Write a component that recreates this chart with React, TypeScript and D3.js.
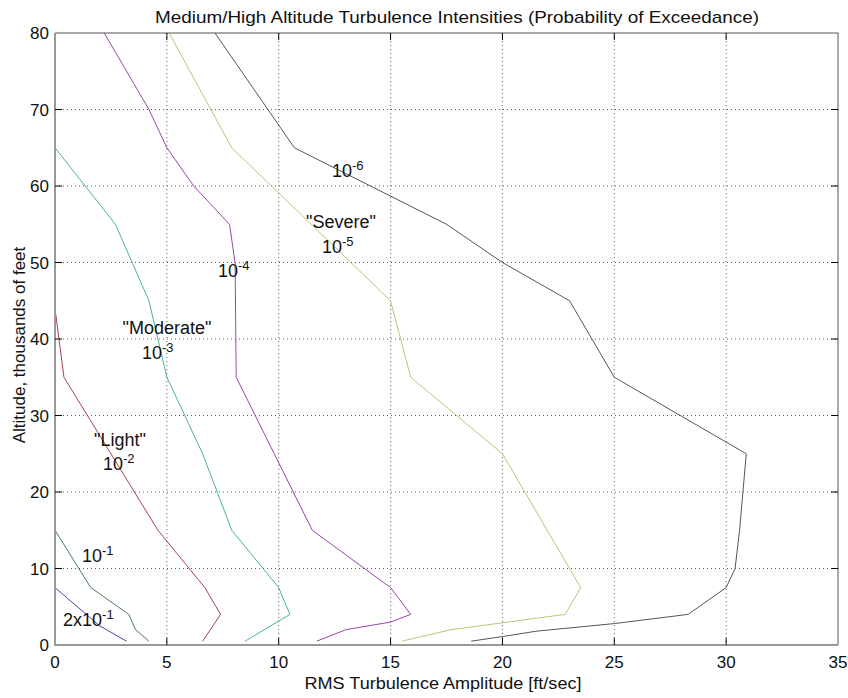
import React from "react";
import * as d3 from "d3";

// Exceedance-probability contours: RMS gust amplitude (ft/sec) vs altitude (thousands of feet)
const amp2e1 = [3.2, 2.0, 0];
const alt2e1 = [0.5, 2.5, 7.5];

const amp1e1 = [4.2, 3.6, 3.3, 1.6, 0];
const alt1e1 = [0.5, 2, 4, 7.5, 15];

const amp1e2 = [6.6, 7.4, 6.7, 4.6, 0.4, 0];
const alt1e2 = [0.5, 4, 7.5, 15, 35, 44];

const amp1e3 = [8.5, 10.5, 10.0, 7.9, 6.6, 5.0, 4.2, 2.7, 0];
const alt1e3 = [0.5, 4, 7.5, 15, 25, 35, 45, 55, 65];

const amp1e4 = [11.7, 13.0, 15.0, 15.9, 15.0, 11.5, 9.8, 8.1, 8.05, 7.8, 6.2, 5.0, 4.2, 3.0, 2.2];
const alt1e4 = [0.5, 2, 3, 4, 7.5, 15, 25, 35, 50, 55, 60, 65, 70, 76, 80];

const amp1e5 = [15.5, 17.7, 22.8, 23.5, 20.0, 15.9, 15.0, 7.9, 5.1];
const alt1e5 = [0.5, 2, 4, 7.5, 25, 35, 45, 65, 80];

const amp1e6 = [18.6, 20.0, 21.5, 25.0, 28.3, 30.0, 30.4, 30.6, 30.75, 30.9, 25.0, 23.0, 20.0, 17.5, 10.7, 7.15];
const alt1e6 = [0.5, 1.1, 1.8, 2.8, 4, 7.5, 10, 15, 20, 25, 35, 45, 50, 55, 65, 80];

const xTicks = [0, 5, 10, 15, 20, 25, 30, 35];
const yTicks = [0, 10, 20, 30, 40, 50, 60, 70, 80];

const curves = [
  { amp: amp2e1, alt: alt2e1, color: "#4646a8" },
  { amp: amp1e1, alt: alt1e1, color: "#4a7d4f" },
  { amp: amp1e2, alt: alt1e2, color: "#a4454e" },
  { amp: amp1e3, alt: alt1e3, color: "#45b3a2" },
  { amp: amp1e4, alt: alt1e4, color: "#9646a6" },
  { amp: amp1e5, alt: alt1e5, color: "#bcc47a" },
  { amp: amp1e6, alt: alt1e6, color: "#555555" },
];

// Curve annotations: optional severity name plus exponent label
const labels = [
  { pre: "2x10", exp: "-1", x: 63, y: 626 },
  { pre: "10", exp: "-1", x: 82, y: 562 },
  { pre: "10", exp: "-2", x: 103, y: 470, name: "\"Light\"", nx: 120, ny: 446 },
  { pre: "10", exp: "-3", x: 142, y: 359, name: "\"Moderate\"", nx: 167, ny: 334 },
  { pre: "10", exp: "-4", x: 218, y: 277 },
  { pre: "10", exp: "-5", x: 322, y: 253, name: "\"Severe\"", nx: 341, ny: 228 },
  { pre: "10", exp: "-6", x: 332, y: 177 },
];

const W = 848;
const H = 698;
const L = 55, R = 838, T = 33, B = 645;
const FONT = "'Liberation Sans', Arial, Helvetica, sans-serif";

export default function App() {
  const x = d3.scaleLinear().domain([0, 35]).range([L, R]);
  const y = d3.scaleLinear().domain([0, 80]).range([B, T]);
  const line = d3
    .line<[number, number]>()
    .x((d) => x(d[0]))
    .y((d) => y(d[1]));
  const tickLen = 7;

  return (
    <svg
      width={W}
      height={H}
      style={{ position: "absolute", left: 0, top: 0, background: "#fff" }}
      fontFamily={FONT}
    >
      <rect x={0} y={0} width={W} height={H} fill="#fff" />
      {/* dotted grid */}
      <g stroke="#333" strokeWidth={1} strokeDasharray="1 3" opacity={0.8}>
        {xTicks.slice(1, -1).map((t) => (
          <line key={"gx" + t} x1={x(t)} x2={x(t)} y1={T} y2={B} />
        ))}
        {yTicks.slice(1, -1).map((t) => (
          <line key={"gy" + t} x1={L} x2={R} y1={y(t)} y2={y(t)} />
        ))}
      </g>
      {/* contour lines */}
      {curves.map((c, i) => (
        <path
          key={i}
          d={line(c.amp.map((a, j) => [a, c.alt[j]] as [number, number])) || ""}
          fill="none"
          stroke={c.color}
          strokeWidth={1}
        />
      ))}
      {/* axes box */}
      <line x1={L} x2={R} y1={T} y2={T} stroke="#555" strokeWidth={1} />
      <line x1={R} x2={R} y1={T} y2={B} stroke="#555" strokeWidth={1} />
      <line x1={L} x2={L} y1={T} y2={B + 1} stroke="#999" strokeWidth={2} />
      <line x1={L - 1} x2={R} y1={B} y2={B} stroke="#999" strokeWidth={2} />
      {/* ticks */}
      <g stroke="#000" strokeWidth={1}>
        {xTicks.slice(1, -1).map((t) => (
          <g key={"tx" + t}>
            <line x1={x(t)} x2={x(t)} y1={B} y2={B - tickLen} />
            <line x1={x(t)} x2={x(t)} y1={T} y2={T + tickLen} />
          </g>
        ))}
        {yTicks.slice(1, -1).map((t) => (
          <g key={"ty" + t}>
            <line x1={L} x2={L + tickLen} y1={y(t)} y2={y(t)} />
            <line x1={R} x2={R - tickLen} y1={y(t)} y2={y(t)} />
          </g>
        ))}
      </g>
      {/* tick labels */}
      <g fontSize={17} fill="#111">
        {xTicks.map((t) => (
          <text key={"lx" + t} x={x(t)} y={668} textAnchor="middle">
            {t}
          </text>
        ))}
        {yTicks.map((t) => (
          <text key={"ly" + t} x={49} y={y(t) + 6} textAnchor="end">
            {t}
          </text>
        ))}
      </g>
      {/* title and axis titles */}
      <text
        x={457}
        y={23}
        textAnchor="middle"
        fontSize={17}
        fill="#111"
        textLength={604}
        lengthAdjust="spacingAndGlyphs"
      >
        Medium/High Altitude Turbulence Intensities (Probability of Exceedance)
      </text>
      <text
        x={443}
        y={689}
        textAnchor="middle"
        fontSize={17}
        fill="#111"
        textLength={277}
        lengthAdjust="spacingAndGlyphs"
      >
        RMS Turbulence Amplitude [ft/sec]
      </text>
      <text
        transform={`translate(25,345) rotate(-90)`}
        textAnchor="middle"
        fontSize={17}
        fill="#111"
      >
        Altitude, thousands of feet
      </text>
      {/* curve annotations */}
      <g fontSize={18} fill="#111">
        {labels.map((lb, i) => (
          <g key={"an" + i}>
            {lb.name && (
              <text x={lb.nx} y={lb.ny} textAnchor="middle">
                {lb.name}
              </text>
            )}
            <text x={lb.x} y={lb.y}>
              {lb.pre}
              <tspan dy={-7} fontSize={13}>
                {lb.exp}
              </tspan>
            </text>
          </g>
        ))}
      </g>
    </svg>
  );
}
